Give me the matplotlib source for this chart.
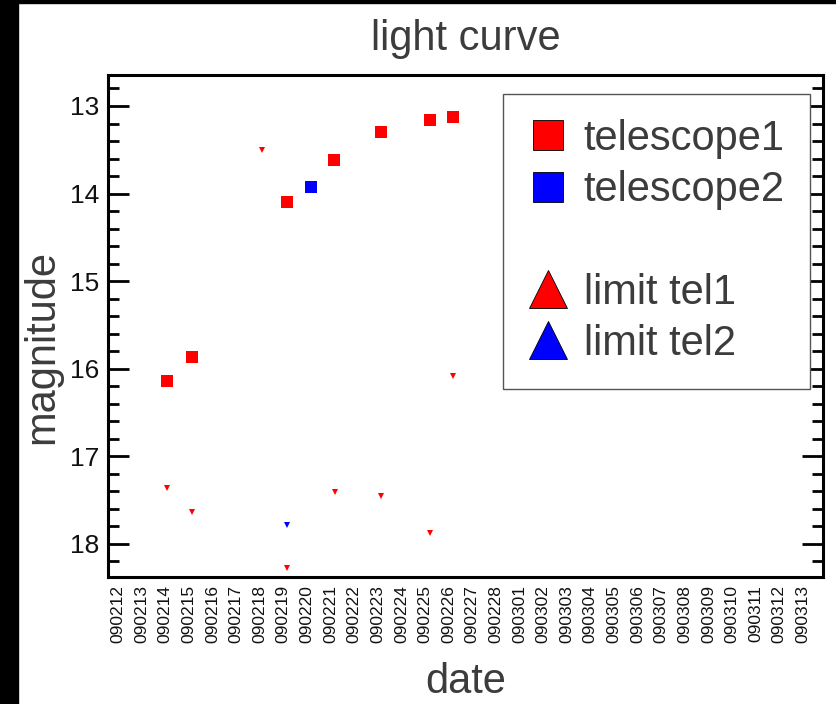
import matplotlib

matplotlib.use("Agg")
import matplotlib.pyplot as plt
from matplotlib.lines import Line2D
from matplotlib.patches import Rectangle
from matplotlib.ticker import MultipleLocator

# dates on the x axis (yymmdd), one per day starting 090212
date_labels = [
    "090212", "090213", "090214", "090215", "090216", "090217",
    "090218", "090219", "090220", "090221", "090222", "090223",
    "090224", "090225", "090226", "090227", "090228", "090301",
    "090302", "090303", "090304", "090305", "090306", "090307",
    "090308", "090309", "090310", "090311", "090312", "090313",
]
date_index = list(range(len(date_labels)))

# detections: day offset from 090212, magnitude
tel1_day = [2.06, 3.12, 7.17, 9.15, 11.14, 13.19, 14.2]
tel1_mag = [16.14, 15.86, 14.10, 13.62, 13.30, 13.16, 13.13]
tel2_day = [8.16]
tel2_mag = [13.93]

# upper limits
lim1_day = [2.06, 3.14, 6.11, 7.17, 9.17, 11.14, 13.2, 14.2]
lim1_mag = [17.36, 17.64, 13.50, 18.27, 17.41, 17.45, 17.87, 16.08]
lim2_day = [7.17]
lim2_mag = [17.78]

GREY = "#3c3c3c"


def main() -> None:
    fig = plt.figure(figsize=(8.36, 7.04), dpi=100)
    ax = fig.add_axes([0.1292, 0.1804, 0.8553, 0.7131])

    # screenshot border
    fig.patches.append(Rectangle((0, 0), 18 / 836, 1, transform=fig.transFigure,
                                 color="black", zorder=10))
    fig.patches.append(Rectangle((0, 1 - 3 / 704), 1, 3 / 704, transform=fig.transFigure,
                                 color="black", zorder=10))

    ax.plot(tel1_day, tel1_mag, "s", color="#ff0000", ms=8.6, mew=0, ls="none")
    ax.plot(tel2_day, tel2_mag, "s", color="#0000ff", ms=8.6, mew=0, ls="none")
    ax.plot(lim1_day, lim1_mag, "v", color="#ff0000", ms=4.5, mew=0, ls="none")
    ax.plot(lim2_day, lim2_mag, "v", color="#0000ff", ms=4.5, mew=0, ls="none")

    ax.set_xlim(-0.42, 29.85)
    ax.set_ylim(18.377, 12.646)

    ax.set_xticks(date_index)
    ax.set_xticklabels(date_labels, rotation=90, fontsize=12.5,
                       family="Liberation Sans", color="#111111")
    ax.tick_params(axis="x", length=0, pad=6)

    ax.yaxis.set_major_locator(MultipleLocator(1))
    ax.yaxis.set_minor_locator(MultipleLocator(0.2))
    ax.tick_params(axis="y", which="both", direction="in", left=True, right=True,
                   width=2.0)
    ax.tick_params(axis="y", which="major", length=15, pad=6)
    ax.tick_params(axis="y", which="minor", length=8)
    for lab in ax.get_yticklabels():
        lab.set_family("Liberation Sans")
        lab.set_fontsize(19)
        lab.set_color("#111111")

    for sp in ax.spines.values():
        sp.set_linewidth(2.2)

    ax.set_title("light curve", fontsize=30, color=GREY, family="Liberation Sans", pad=18)
    ax.set_xlabel("date", fontsize=30, color=GREY, family="Liberation Sans", labelpad=13)
    ax.set_ylabel("magnitude", fontsize=30, color=GREY, family="Liberation Sans",
                  labelpad=6, y=0.458)

    handles = [
        Line2D([], [], marker="s", ls="none", mfc="#ff0000", mec="black", mew=0.6, ms=21.6),
        Line2D([], [], marker="s", ls="none", mfc="#0000ff", mec="black", mew=0.6, ms=21.6),
        Line2D([], [], ls="none"),
        Line2D([], [], marker="^", ls="none", mfc="#ff0000", mec="black", mew=0.6, ms=27.5),
        Line2D([], [], marker="^", ls="none", mfc="#0000ff", mec="black", mew=0.6, ms=27.5),
    ]
    labels = ["telescope1", "telescope2", " ", "limit tel1", "limit tel2"]
    leg = ax.legend(
        handles, labels,
        loc="upper left", bbox_to_anchor=(0.552, 0.962), borderaxespad=0,
        prop={"family": "Liberation Sans", "size": 30},
        labelcolor=GREY, frameon=True, fancybox=False, framealpha=1,
        edgecolor="#555555", borderpad=0.6, labelspacing=0.27,
        handlelength=0.96, handletextpad=0.38,
    )
    leg.get_frame().set_linewidth(1.0)

    fig.savefig("out.png", dpi=100)


if __name__ == "__main__":
    main()
